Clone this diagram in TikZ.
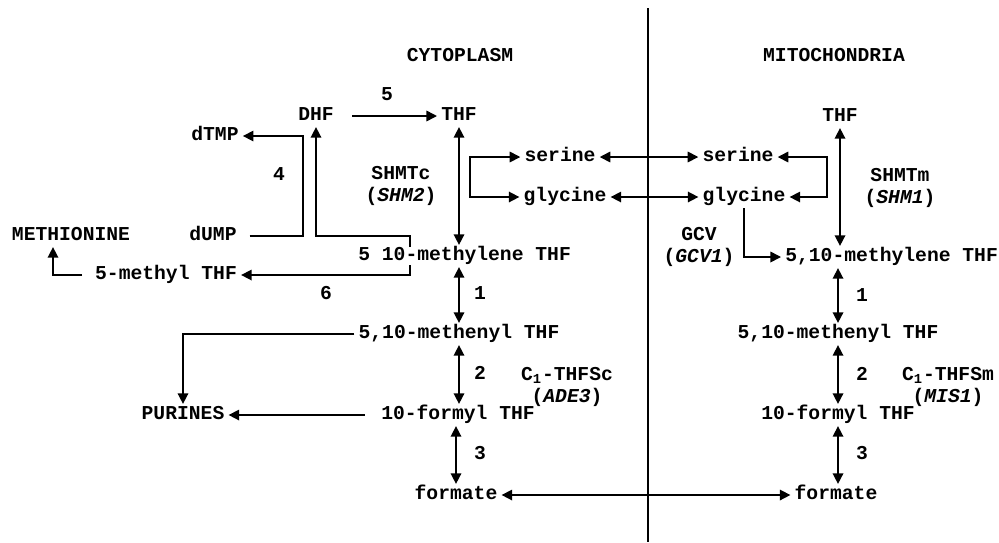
\documentclass[tikz,border=0pt]{standalone}
\usepackage{fontspec}
\setmonofont{Liberation Mono}
\usetikzlibrary{arrows.meta,calc}
\begin{document}
\begin{tikzpicture}[x=0.02cm, y=-0.02cm, >={Triangle[length=6pt,width=6pt]}, line width=0.9pt,
	font=\fontsize{11.2}{13}\selectfont\ttfamily\bfseries,
	every node/.style={inner sep=2pt, text height=1.5ex, text depth=0.3ex},
	enz/.style={align=center, text height=, text depth=}]
	\useasboundingbox (0,0) rectangle (999,542);
	% vach ngan
	\coordinate (top) at (648,8);
	\coordinate (bot) at (648,542);
	\draw (top) -- (bot);
	\node (cyt) at (460,57) {CYTOPLASM};
	\node (mit) at (834,57) {MITOCHONDRIA};
	% te bao chat
	\node (dhf) at (316,116) {DHF};
	\node (thfc) at (459,116) {THF};
	\node (dtmp) at (215,136) {dTMP};
	\node (dump) at (213,236) {dUMP};
	\node (meth) at (71,236) {METHIONINE};
	\node (mthf) at (166,275) {5-methyl THF};
	\node[anchor=west] (mlc) at (354,256) {5 10-methylene THF};
	\node (mec) at (459,334) {5,10-methenyl THF};
	\node (fmc) at (458,415) {10-formyl THF};
	\node (formc) at (456,495) {formate};
	\node (pur) at (183,415) {PURINES};
	\node (serc) at (560,157) {serine};
	\node (glyc) at (565,197) {glycine};
	\node[enz] (shmtc) at (401,186) {SHMTc\\(\textit{SHM2})};
	\node[enz] (adec) at (567,387) {C\textsubscript{1}-THFSc\\(\textit{ADE3})};
	% ty the
	\node (serm) at (738,157) {serine};
	\node (glym) at (744,197) {glycine};
	\node (thfm) at (840,117) {THF};
	\node[anchor=west] (mlm) at (781,257) {5,10-methylene THF};
	\node (mem) at (838,334) {5,10-methenyl THF};
	\node (fmm) at (838,415) {10-formyl THF};
	\node (formm) at (836,495) {formate};
	\node[enz] (shmtm) at (900,188) {SHMTm\\(\textit{SHM1})};
	\node[enz] (gcv) at (699,247) {GCV\\(\textit{GCV1})};
	\node[enz] (misl) at (948,387) {C\textsubscript{1}-THFSm\\(\textit{MIS1})};
	% so phan ung
	\node (r5) at (387,96) {5};
	\node (r4) at (279,176) {4};
	\node (r6) at (326,295) {6};
	\node (r1c) at (480,295) {1};
	\node (r2c) at (480,375) {2};
	\node (r3c) at (480,455) {3};
	\node (r1m) at (862,297) {1};
	\node (r2m) at (862,376) {2};
	\node (r3m) at (862,455) {3};
	% diem gap
	\coordinate (b4) at (303,136);
	\coordinate (b5) at (410,236);
	\coordinate (b6) at (410,275);
	\coordinate (bme) at (53,275);
	\coordinate (bsc) at (470,157);
	\coordinate (bsm) at (827,157);
	% mui ten
	\draw[->, shorten <=8pt] (dhf.east) -- (thfc.west);
	\draw[->, shorten <=5pt] (dump.east) -| (b4) -- (dtmp.east);
	\draw[->] ($(mlc.north west -| b5)+(0,2)$) -- (b5) -| (dhf.south);
	\draw[->] ($(mlc.south west -| b6)+(0,-2)$) -- (b6) -- (mthf.east);
	\draw[->, shorten <=5pt] (mthf.west) -- (bme) -- (bme |- meth.south);
	\draw[->] (mec.west) -| (pur.north);
	\draw[->, shorten <=7pt] (fmc.west) -- (pur.east);
	\draw[<->] (thfc.south) -- (thfc.south |- mlc.north);
	\draw[<->] (mec.north |- mlc.south) -- (mec.north);
	\draw[<->] (mec.south) -- (mec.south |- fmc.north);
	\draw[<->] (formc.north |- fmc.south) -- (formc.north);
	\draw[<->] (serc.west) -- (bsc) |- (glyc.west);
	\draw[<->] (serc) -- (serm);
	\draw[<->] (glyc) -- (glym);
	\draw[<->] (serm.east) -- (bsm) |- (glym.east);
	\draw[->] (glym.south) |- (mlm.west);
	\draw[<->] (thfm.south) -- (thfm.south |- mlm.north);
	\draw[<->] (mem.north |- mlm.south) -- (mem.north);
	\draw[<->] (mem.south) -- (fmm.north);
	\draw[<->] (fmm.south) -- (fmm.south |- formm.north);
	\draw[<->] (formc) -- (formm);
\end{tikzpicture}
\end{document}
